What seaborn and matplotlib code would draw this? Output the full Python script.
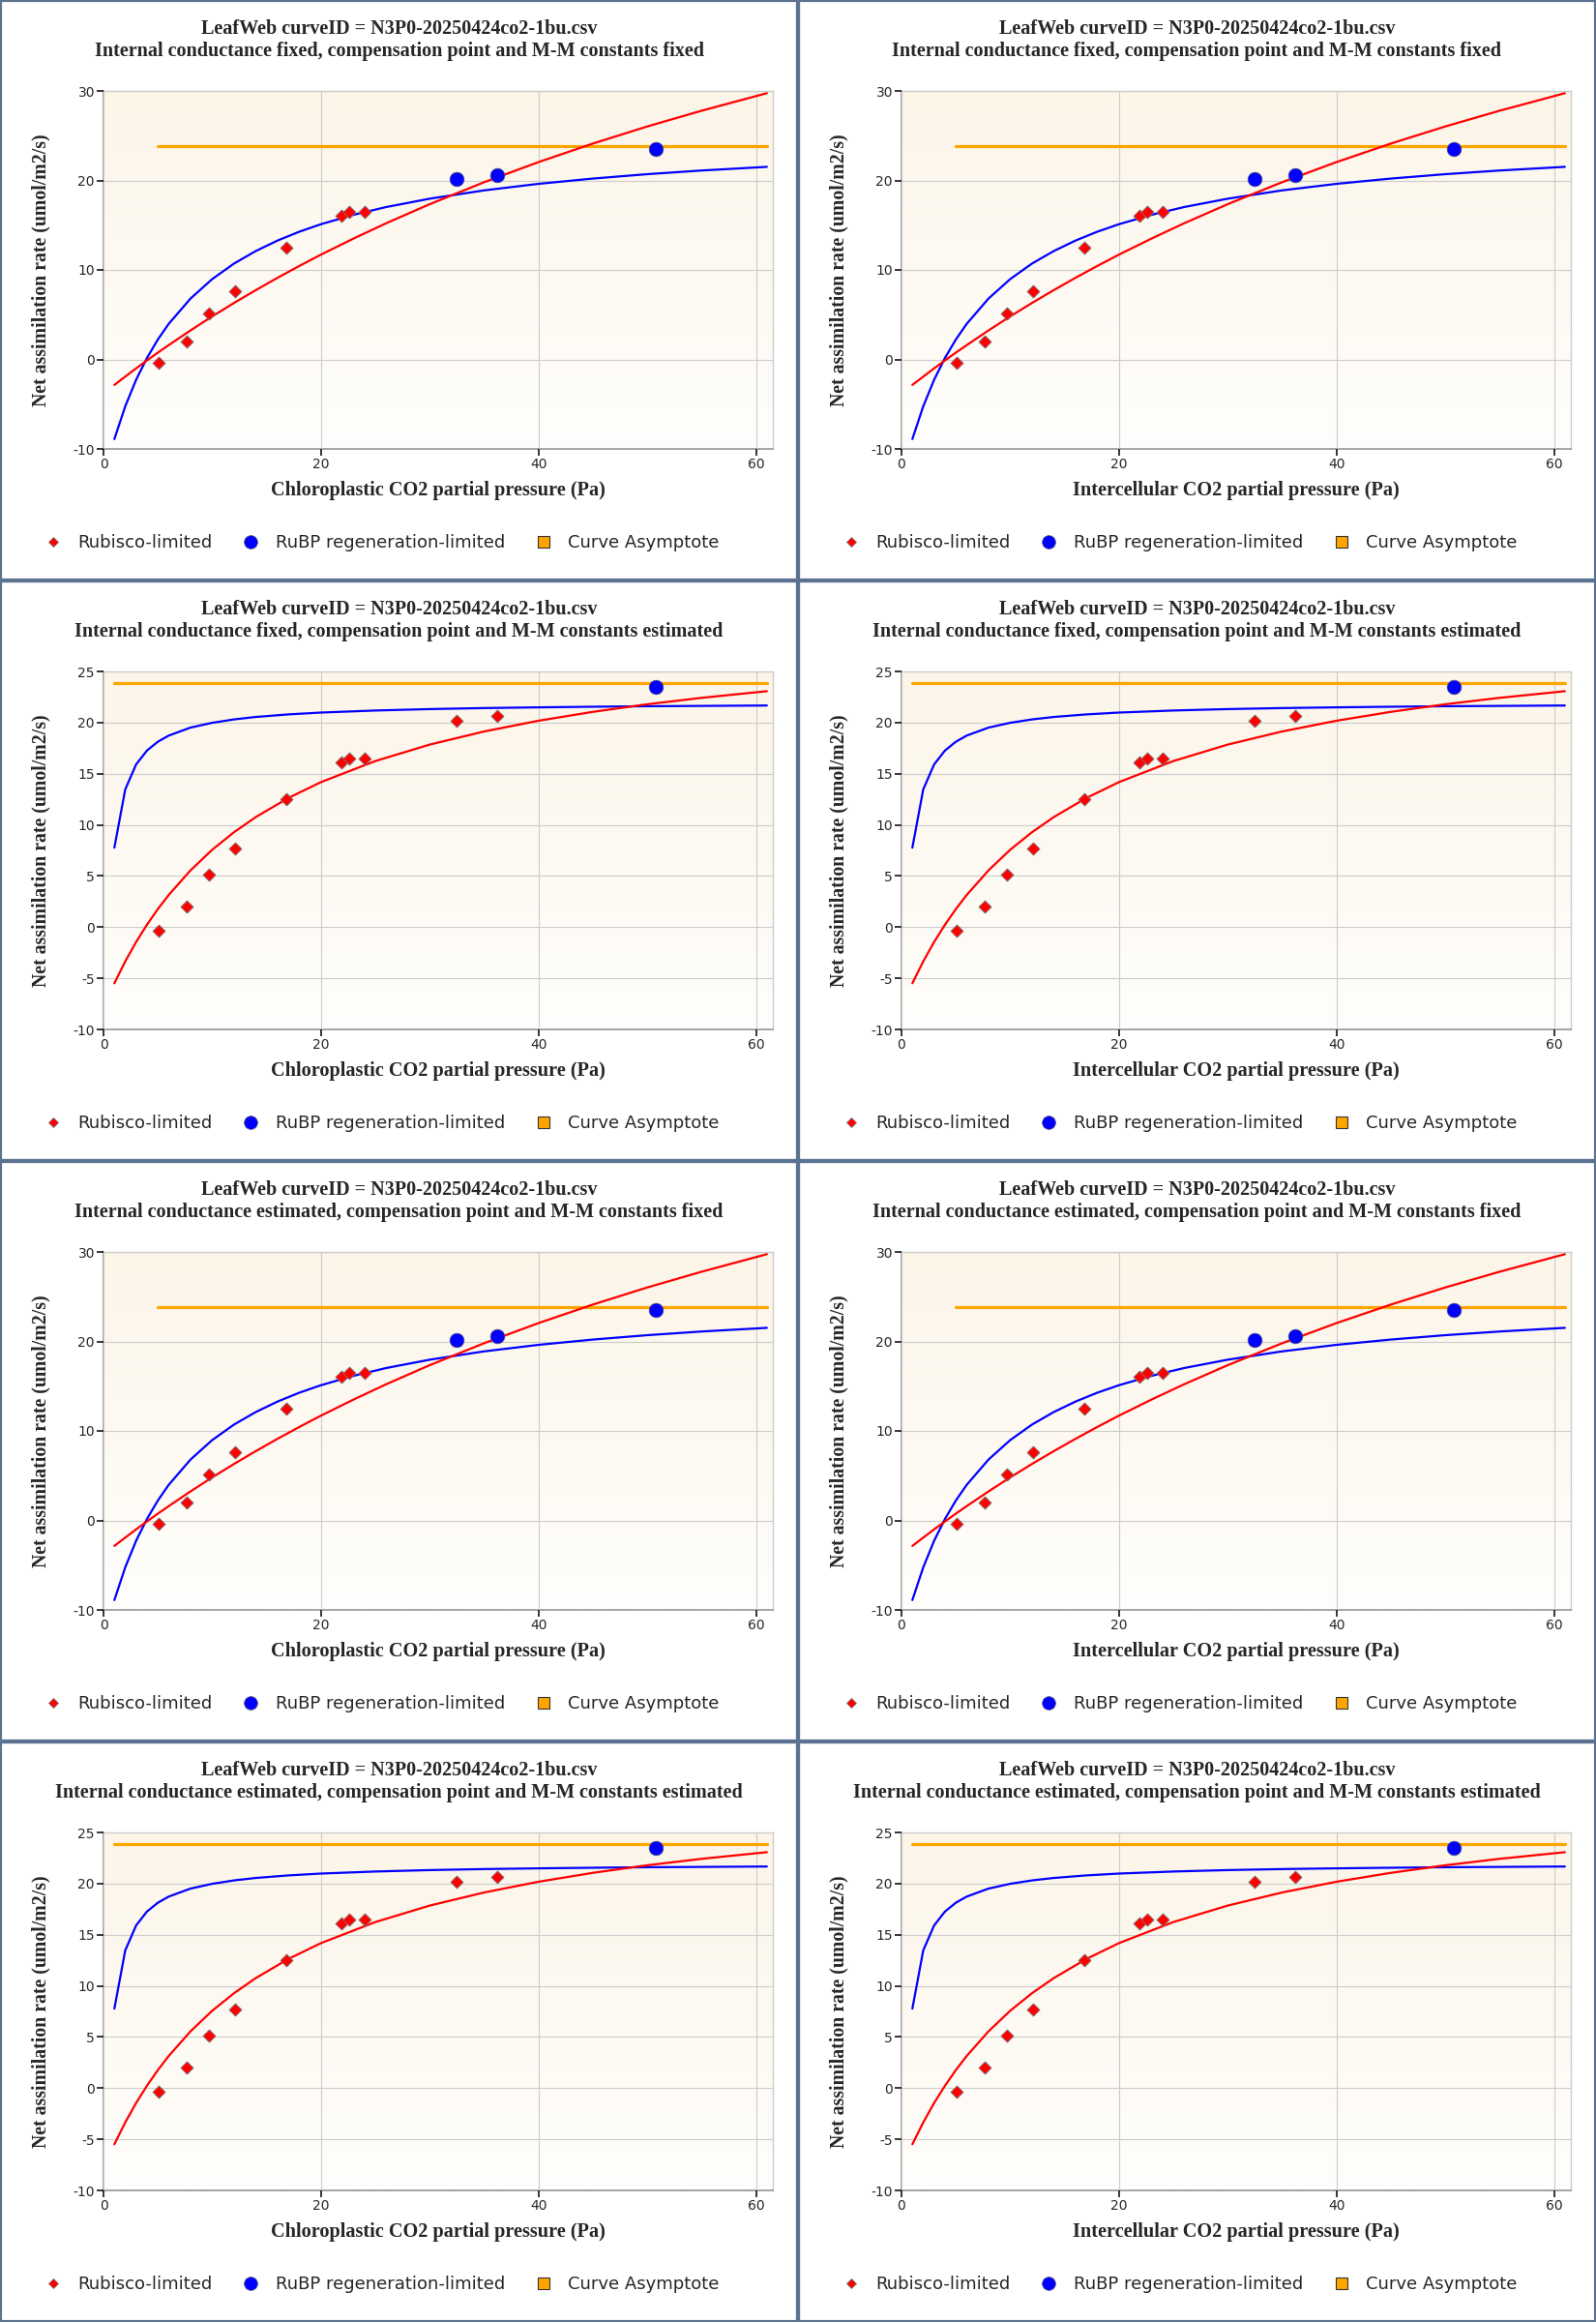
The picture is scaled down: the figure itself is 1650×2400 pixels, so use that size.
import numpy as np
import seaborn as sns
import matplotlib.pyplot as plt
from matplotlib.lines import Line2D
from matplotlib.patches import Rectangle


# measured points (CO2 partial pressure, Pa / net assimilation, umol/m2/s)
co2_points = [5.05, 7.67, 9.69, 12.07, 16.85, 21.91, 22.56, 24.01, 32.48, 36.22, 50.77]
a_points = [-0.36, 2.04, 5.10, 7.66, 12.54, 16.10, 16.52, 16.48, 20.20, 20.61, 23.47]

# fitted curves, constants fixed
co2_fixed = [1, 2, 3, 4, 5, 6, 8, 10, 12, 14, 16, 18, 20, 23, 26, 30, 35, 40, 45, 50, 55, 61]
rubisco_fixed = [-2.85, -1.92, -1.00, -0.11, 0.76, 1.60, 3.24, 4.81, 6.31, 7.74, 9.12,
                 10.44, 11.71, 13.51, 15.22, 17.35, 19.80, 22.05, 24.12, 26.03, 27.79, 29.75]
rubp_fixed = [-8.90, -5.24, -2.27, 0.17, 2.23, 3.98, 6.80, 8.98, 10.71, 12.11, 13.28,
              14.27, 15.11, 16.16, 17.03, 17.96, 18.89, 19.62, 20.21, 20.70, 21.11, 21.52]

# fitted curves, constants estimated
co2_est = [1, 2, 3, 4, 5, 6, 8, 10, 12, 14, 17, 20, 25, 30, 35, 40, 45, 50, 55, 61]
rubisco_est = [-5.49, -3.35, -1.45, 0.24, 1.77, 3.15, 5.55, 7.57, 9.28, 10.76, 12.63,
               14.18, 16.24, 17.85, 19.13, 20.18, 21.05, 21.79, 22.42, 23.07]
rubp_est = [7.77, 13.47, 15.91, 17.27, 18.13, 18.73, 19.51, 19.98, 20.31, 20.55, 20.80,
            20.98, 21.18, 21.32, 21.42, 21.49, 21.55, 21.60, 21.63, 21.67]

asymptote = 23.84
asym_x_fixed = [5.0, 61]
asym_x_est = [1.0, 61]

# number of points that are Rubisco-limited in each fit
n_rubisco_fixed = 8
n_rubisco_est = 10

curve_id = 'LeafWeb curveID = N3P0-20250424co2-1bu.csv'
row_settings = [('fixed', 'fixed'), ('fixed', 'estimated'),
                ('estimated', 'fixed'), ('estimated', 'estimated')]
x_labels = ['Chloroplastic CO2 partial pressure (Pa)',
            'Intercellular CO2 partial pressure (Pa)']
y_label = 'Net assimilation rate (umol/m2/s)'

W, H = 1650, 2400
PW, PH = 825, 600
BORDER = '#5b7290'

sns.set_style('white')
plt.rcParams['font.family'] = ['DejaVu Sans']
plt.rcParams['axes.unicode_minus'] = False

fig = plt.figure(figsize=(W / 100, H / 100), dpi=100)

gradient = np.linspace(0, 1, 256).reshape(-1, 1)
top_col = np.array([252, 245, 232]) / 255
bot_col = np.array([255, 254, 252]) / 255
bg = top_col[None, None, :] * (1 - gradient[:, :, None]) + bot_col[None, None, :] * gradient[:, :, None]

serif = 'Liberation Serif'

for r, (gm, consts) in enumerate(row_settings):
    for c in range(2):
        ox, oy = c * PW, r * PH
        ax = fig.add_axes([(ox + 107) / W, 1 - (oy + 464) / H, 692 / W, 370 / H])

        if consts == 'fixed':
            cx, rub, rubp, nr, ax_x = co2_fixed, rubisco_fixed, rubp_fixed, n_rubisco_fixed, asym_x_fixed
            ylim, yticks = (-10, 30), [-10, 0, 10, 20, 30]
        else:
            cx, rub, rubp, nr, ax_x = co2_est, rubisco_est, rubp_est, n_rubisco_est, asym_x_est
            ylim, yticks = (-10, 25), [-10, -5, 0, 5, 10, 15, 20, 25]

        ax.imshow(bg, extent=[0, 1, 0, 1], transform=ax.transAxes, aspect='auto', zorder=0)

        sns.lineplot(x=ax_x, y=[asymptote] * len(ax_x), ax=ax, color='#ffa500', linewidth=2.3, zorder=3)
        sns.lineplot(x=cx, y=rubp, ax=ax, color='#0000ff', linewidth=1.6, sort=False, estimator=None, zorder=4)
        sns.lineplot(x=cx, y=rub, ax=ax, color='#ff0000', linewidth=1.6, sort=False, estimator=None, zorder=4)
        sns.scatterplot(x=co2_points[:nr], y=a_points[:nr], ax=ax, marker='D', s=44,
                        color='#ff0000', edgecolor='#777777', linewidth=0.6, zorder=5)
        sns.scatterplot(x=co2_points[nr:], y=a_points[nr:], ax=ax, marker='o', s=112,
                        color='#0000ff', edgecolor='#555577', linewidth=0.5, zorder=5)

        ax.set_xlim(0, 61.55)
        ax.set_ylim(*ylim)
        ax.set_xticks([0, 20, 40, 60])
        ax.set_yticks(yticks)
        ax.grid(True, color='#cccccc', linewidth=0.8, zorder=1)
        ax.set_axisbelow(False)
        for side in ['left', 'bottom']:
            ax.spines[side].set_color('#8a8a8a')
            ax.spines[side].set_linewidth(1.1)
        for side in ['top', 'right']:
            ax.spines[side].set_color('#cccccc')
            ax.spines[side].set_linewidth(1.0)
        ax.tick_params(axis='both', direction='out', length=5, width=1.1, color='black',
                       labelsize=10, pad=1.5, left=True, bottom=True)

        ax.set_xlabel(x_labels[c], family=serif, fontweight='bold', fontsize=14.6, va='center')
        ax.xaxis.set_label_coords(0.5, -(507 - 464) / 370)
        ax.set_ylabel(y_label, family=serif, fontweight='bold', fontsize=14.2, va='center')
        ax.yaxis.set_label_coords((42 - 107) / 692, 0.5)

        fig.text((ox + 412.5) / W, 1 - (oy + 30) / H, curve_id, family=serif,
                 fontweight='bold', fontsize=14.5, ha='center', va='center')
        fig.text((ox + 412.5) / W, 1 - (oy + 53) / H,
                 f'Internal conductance {gm}, compensation point and M-M constants {consts}',
                 family=serif, fontweight='bold', fontsize=14.5, ha='center', va='center')

        handles = [
            Line2D([], [], ls='none', marker='D', markersize=5.6, color='#ff0000',
                   markeredgecolor='#777777', markeredgewidth=0.6),
            Line2D([], [], ls='none', marker='o', markersize=9.9, color='#0000ff',
                   markeredgecolor='#555577', markeredgewidth=0.5),
            Line2D([], [], ls='none', marker='s', markersize=9, color='#ffa500',
                   markeredgecolor='#333333', markeredgewidth=0.8),
        ]
        fig.legend(handles, ['Rubisco-limited', 'RuBP regeneration-limited', 'Curve Asymptote'],
                   loc='center left', bbox_to_anchor=((ox + 46) / W, 1 - (oy + 561) / H),
                   ncol=3, frameon=False, fontsize=13, handlelength=1.0, handletextpad=0.89,
                   columnspacing=1.72, borderpad=0, borderaxespad=0)

        fig.patches.append(Rectangle((ox / W, 1 - (oy + PH) / H), PW / W, PH / H,
                                     transform=fig.transFigure, fill=False,
                                     edgecolor=BORDER, linewidth=3, zorder=10))

fig.savefig('out.png', dpi=100)
